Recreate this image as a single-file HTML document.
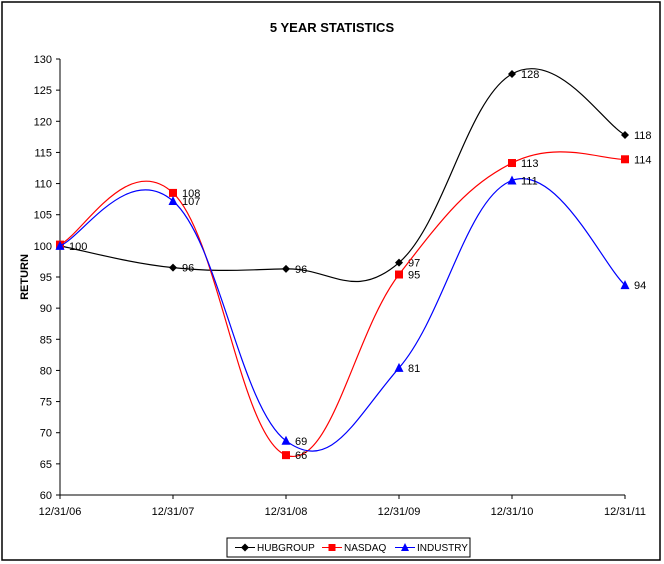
<!DOCTYPE html>
<html><head><meta charset="utf-8"><style>
body{margin:0;background:#fff;}
svg{display:block;font-family:"Liberation Sans",Arial,sans-serif;}
</style></head><body>
<svg id="chart" width="664" height="564">
<rect x="2" y="2" width="658" height="558" fill="#fff" stroke="#000" stroke-width="1.5"/>
<text x="332" y="32" text-anchor="middle" font-size="13" font-weight="bold">5 YEAR STATISTICS</text>
<text transform="translate(28,277) rotate(-90)" text-anchor="middle" font-size="11" font-weight="bold">RETURN</text>
<g id="axes"></g><g id="series"></g>
<g>
<rect x="227" y="538" width="243" height="19" fill="#fff" stroke="#000"/>
<g><line x1="235" y1="547.5" x2="255" y2="547.5" stroke="#000"/><path d="M245 543.5 L249 547.5 L245 551.5 L241 547.5Z" fill="#000"/><text x="257" y="551" font-size="10">HUBGROUP</text></g>
<g><line x1="322" y1="547.5" x2="342" y2="547.5" stroke="#f00"/><rect x="328.5" y="544" width="7" height="7" fill="#f00"/><text x="344" y="551" font-size="10">NASDAQ</text></g>
<g><line x1="395" y1="547.5" x2="415" y2="547.5" stroke="#00f"/><path d="M405 543 L409 551 L401 551Z" fill="#00f"/><text x="417" y="551" font-size="10">INDUSTRY</text></g>
</g>
</svg>
<script>
const categories=["12/31/06","12/31/07","12/31/08","12/31/09","12/31/10","12/31/11"];
const hubgroup=[100,96.5,96.3,97.3,127.6,117.8];
const nasdaq=[100.2,108.5,66.4,95.4,113.3,113.9];
const industry=[100,107.2,68.7,80.4,110.5,93.7];
const hubLabels=["100","96","96","97","128","118"];
const nasLabels=["","108","66","95","113","114"];
const indLabels=["","107","69","81","111","94"];
const yTicks=[60,65,70,75,80,85,90,95,100,105,110,115,120,125,130];
const NS="http://www.w3.org/2000/svg";
const X0=60,X1=625,Y0=495,Y1=59,YMIN=60,YMAX=130;
const xs=i=>X0+i*(X1-X0)/(categories.length-1);
const ys=v=>Y0-(v-YMIN)/(YMAX-YMIN)*(Y0-Y1);
function mk(t,a,p){const e=document.createElementNS(NS,t);for(const k in a)e.setAttribute(k,a[k]);p.appendChild(e);return e;}
const ax=document.getElementById('axes');
let l=mk('line',{x1:X0,y1:Y1,x2:X0,y2:Y0,stroke:'#000'},ax);


l=mk('line',{x1:X0,y1:Y0,x2:X1,y2:Y0,stroke:'#000'},ax);


yTicks.forEach(v=>{const y=ys(v);mk('line',{x1:X0-4,y1:y,x2:X0,y2:y,stroke:'#000'},ax);
const t=mk('text',{x:X0-8,y:y+4,'text-anchor':'end','font-size':'11'},ax);t.textContent=v;

});
categories.forEach((c,i)=>{const x=xs(i);mk('line',{x1:x,y1:Y0,x2:x,y2:Y0+4,stroke:'#000'},ax);
const t=mk('text',{x:x,y:Y0+20,'text-anchor':'middle','font-size':'11'},ax);t.textContent=c;

});
function path(vals){const p=vals.map((v,i)=>[xs(i),ys(v)]);let d=`M${p[0][0]},${p[0][1]}`;
for(let i=0;i<p.length-1;i++){const a=p[Math.max(i-1,0)],b=p[i],c=p[i+1],e=p[Math.min(i+2,p.length-1)];
const k=1/5;d+=` C${b[0]+(c[0]-a[0])*k},${b[1]+(c[1]-a[1])*k} ${c[0]-(e[0]-b[0])*k},${c[1]-(e[1]-b[1])*k} ${c[0]},${c[1]}`;}return d;}
const sg=document.getElementById('series');
function series(name,vals,labs,color,shape){const g=mk('g',{},sg);


mk('path',{d:path(vals),fill:'none',stroke:color,'stroke-width':'1.2'},g);
vals.forEach((v,i)=>{const x=xs(i),y=ys(v);let m;
if(shape==='d')m=mk('path',{d:`M${x} ${y-4}L${x+4} ${y}L${x} ${y+4}L${x-4} ${y}Z`,fill:color},g);
else if(shape==='s')m=mk('rect',{x:x-4,y:y-4,width:8,height:8,fill:color},g);
else m=mk('path',{d:`M${x} ${y-5}L${x+4.5} ${y+4}L${x-4.5} ${y+4}Z`,fill:color},g);


if(labs[i]){const t=mk('text',{x:x+9,y:y+4,'font-size':'11'},g);t.textContent=labs[i];

}});}
series('hubgroup',hubgroup,hubLabels,'#000','d');
series('nasdaq',nasdaq,nasLabels,'#f00','s');
series('industry',industry,indLabels,'#00f','t');
</script>
</body></html>
